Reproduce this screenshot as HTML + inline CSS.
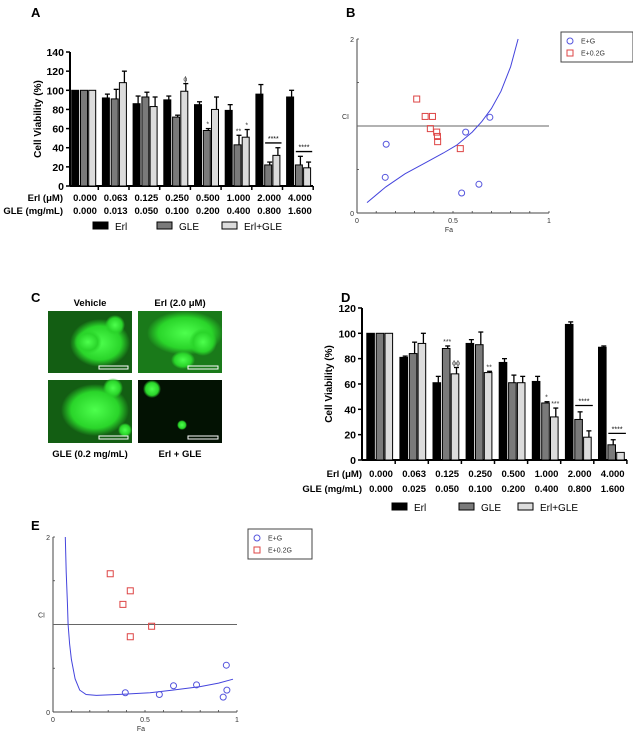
<!DOCTYPE html>
<html><head><meta charset="utf-8"><style>
html,body{margin:0;padding:0;background:#fff}
svg{display:block;font-family:"Liberation Sans",Arial,sans-serif}
</style></head><body>
<svg id="fig" width="633" height="738" viewBox="0 0 633 738" xmlns="http://www.w3.org/2000/svg">
<defs>
<radialGradient id="blob" cx="50%" cy="50%" r="50%"><stop offset="0" stop-color="#4dff4d"/><stop offset="0.7" stop-color="#2ad52a"/><stop offset="1" stop-color="#2ad52a" stop-opacity="0"/></radialGradient>
</defs>
<g font-weight="bold" font-size="13">
<text x="31" y="17">A</text>
<text x="346" y="17">B</text>
<text x="31" y="302">C</text>
<text x="341" y="302">D</text>
<text x="31" y="530">E</text>
</g>
<g>
<text x="90" y="306" font-size="9.5" font-weight="bold" text-anchor="middle">Vehicle</text>
<text x="180" y="306" font-size="9.5" font-weight="bold" text-anchor="middle">Erl (2.0 μM)</text>
<g>
<rect x="48" y="311" width="84" height="62" fill="#135e13"/>
<ellipse cx="100" cy="343" rx="30" ry="24" fill="url(#blob)"/>
<ellipse cx="88" cy="342" rx="14" ry="12" fill="url(#blob)"/>
<ellipse cx="115" cy="325" rx="10" ry="10" fill="url(#blob)"/>
<rect x="99" y="366" width="29" height="3" fill="none" stroke="#fff" stroke-width="1"/>
</g>
<g>
<rect x="138" y="311" width="84" height="62" fill="#1a7a1a"/>
<ellipse cx="185" cy="333" rx="38" ry="22" fill="url(#blob)"/>
<ellipse cx="203" cy="342" rx="14" ry="14" fill="url(#blob)"/>
<ellipse cx="183" cy="360" rx="12" ry="9" fill="url(#blob)"/>
<rect x="188" y="366" width="30" height="3" fill="none" stroke="#fff" stroke-width="1"/>
</g>
<g>
<rect x="48" y="380" width="84" height="63" fill="#135e13"/>
<ellipse cx="95" cy="410" rx="34" ry="26" fill="url(#blob)"/>
<ellipse cx="113" cy="388" rx="10" ry="10" fill="url(#blob)"/>
<ellipse cx="125" cy="430" rx="7" ry="7" fill="url(#blob)"/>
<rect x="99" y="436" width="29" height="3" fill="none" stroke="#fff" stroke-width="1"/>
</g>
<g>
<rect x="138" y="380" width="84" height="63" fill="#031203"/>
<circle cx="152" cy="389" r="9" fill="url(#blob)"/>
<circle cx="182" cy="425" r="5" fill="url(#blob)"/>
<rect x="188" y="436" width="30" height="3" fill="none" stroke="#fff" stroke-width="1"/>
</g>
<text x="90" y="457" font-size="9.5" font-weight="bold" text-anchor="middle">GLE (0.2 mg/mL)</text>
<text x="180" y="457" font-size="9.5" font-weight="bold" text-anchor="middle">Erl + GLE</text>
</g>
<g id="chartA"></g>
<g id="chartD"></g>
<g id="chartB"></g>
<g id="chartE"></g>
</svg>
<script>
// ---- Panel A data ----
const aErlLabels = ["0.000","0.063","0.125","0.250","0.500","1.000","2.000","4.000"];
const aGleLabels = ["0.000","0.013","0.050","0.100","0.200","0.400","0.800","1.600"];
const aErl = [100,92,86,90,85,79,96,93];
const aErlErr = [0,4,8,4,3,6,10,7];
const aGle = [100,91,93,72,58,43,22,22];
const aGleErr = [0,10,5,2,2,10,3,9];
const aCombo = [100,108,83,99,80,51,32,19];
const aComboErr = [0,12,10,8,13,8,8,6];
const aYTicks = [0,20,40,60,80,100,120,140];
const aAnnot = [[3,2,"ɸ"],[4,1,"*"],[5,1,"**"],[5,2,"*"]];
const aSigBars = [6,7];
// ---- Panel D data ----
const dErlLabels = ["0.000","0.063","0.125","0.250","0.500","1.000","2.000","4.000"];
const dGleLabels = ["0.000","0.025","0.050","0.100","0.200","0.400","0.800","1.600"];
const dErl = [100,81,61,92,77,62,107,89];
const dErlErr = [0,1,5,3,3,4,2,1];
const dGle = [100,84,88,91,61,45,32,12];
const dGleErr = [0,9,2,10,6,1,6,4];
const dCombo = [100,92,68,69,61,34,18,6];
const dComboErr = [0,8,5,1,5,7,5,0];
const dYTicks = [0,20,40,60,80,100,120];
const dAnnot = [[2,1,"***"],[2,2,"ɸɸ"],[3,2,"**"],[5,1,"*"],[5,2,"***"]];
const dSigBars = [6,7];
// ---- Panel B data ----
const bCircFa = [0.152,0.147,0.566,0.692,0.545,0.635];
const bCircCI = [0.79,0.41,0.93,1.10,0.23,0.33];
const bSqFa = [0.311,0.355,0.393,0.382,0.415,0.419,0.420,0.538];
const bSqCI = [1.31,1.11,1.11,0.97,0.93,0.88,0.82,0.74];
const bCurveFa = [0.052,0.15,0.25,0.35,0.45,0.52,0.60,0.65,0.70,0.75,0.80,0.839];
const bCurveCI = [0.12,0.30,0.45,0.57,0.69,0.78,0.93,1.05,1.20,1.40,1.68,2.0];
// ---- Panel E data ----
const eCircFa = [0.393,0.578,0.655,0.78,0.942,0.945,0.925];
const eCircCI = [0.22,0.20,0.30,0.31,0.535,0.25,0.17];
const eSqFa = [0.311,0.42,0.38,0.536,0.42];
const eSqCI = [1.58,1.385,1.23,0.98,0.86];
const eCurveFa = [0.067,0.072,0.078,0.082,0.09,0.10,0.12,0.145,0.18,0.236,0.35,0.527,0.65,0.8,0.9,0.978];
const eCurveCI = [2.0,1.6,1.25,1.0,0.78,0.6,0.38,0.25,0.2,0.19,0.2,0.22,0.25,0.29,0.33,0.375];

const NS="http://www.w3.org/2000/svg";
function mk(parent,tag,attrs,text){const e=document.createElementNS(NS,tag);for(const k in attrs)e.setAttribute(k,attrs[k]);if(text!==undefined)e.textContent=text;parent.appendChild(e);return e;}

function barChart(g,cfg){
  const yS=v=>cfg.y0-v*cfg.k;
  const xC=i=>cfg.c0+i*cfg.sp;
  const top=yS(cfg.ticks[cfg.ticks.length-1]);
  const ya=mk(g,'line',{x1:cfg.ax,y1:top,x2:cfg.ax,y2:cfg.y0,stroke:'#000','stroke-width':2});
  
  
  const xa=mk(g,'line',{x1:cfg.ax,y1:cfg.y0,x2:cfg.xEnd,y2:cfg.y0,stroke:'#000','stroke-width':2});
  
  
  cfg.ticks.forEach(t=>{
    mk(g,'line',{x1:cfg.ax-4,y1:yS(t),x2:cfg.ax,y2:yS(t),stroke:'#000','stroke-width':1.5});
    const tl=mk(g,'text',{x:cfg.ax-6,y:yS(t)+4,'text-anchor':'end','font-size':10.5,'font-weight':'bold'},t);
    
    
  });
  const ym=(cfg.y0+top)/2;
  const yt=mk(g,'text',{x:cfg.ytX,y:ym,transform:`rotate(-90 ${cfg.ytX} ${ym})`,'text-anchor':'middle','font-size':10,'font-weight':'bold'},'Cell Viability (%)');
  
  
  const series=[[cfg.erl,cfg.erlE,'#000'],[cfg.gle,cfg.gleE,'#7a7a7a'],[cfg.combo,cfg.comboE,'#dcdcdc']];
  const bw=cfg.bw;
  cfg.erlL.forEach((lab,i)=>{
    const c=xC(i);
    mk(g,'line',{x1:c+1.5*bw+2,y1:cfg.y0,x2:c+1.5*bw+2,y2:cfg.y0+4,stroke:'#000','stroke-width':1.5});
    series.forEach((s,j)=>{
      const x=c+(j-1.5)*bw;
      const v=s[0][i],e=s[1][i];
      const bx=x+(j===0?0:0.6);
      const r=mk(g,'rect',{x:bx,y:yS(v),width:bw-1.2,height:v*cfg.k,fill:s[2],stroke:'#000','stroke-width':1});
      
      
      if(e>0){
        const cx=bx+(bw-1.2)/2+1.5;
        mk(g,'line',{x1:cx,y1:yS(v),x2:cx,y2:yS(v+e),stroke:'#000','stroke-width':1.3});
        mk(g,'line',{x1:cx-2.5,y1:yS(v+e),x2:cx+2.5,y2:yS(v+e),stroke:'#000','stroke-width':1.3});
      }
    });
    const l1=mk(g,'text',{x:c+1,y:cfg.row1,'text-anchor':'middle','font-size':9.5,'font-weight':'bold'},lab);
    
    
    const l2=mk(g,'text',{x:c+1,y:cfg.row2,'text-anchor':'middle','font-size':9.5,'font-weight':'bold'},cfg.gleL[i]);
    
    
  });
  cfg.annot.forEach(a=>{
    const s=series[a[1]];const v=s[0][a[0]]+s[1][a[0]];
    const x=xC(a[0])+(a[1]-1.5)*bw+bw/2+1;
    const t=mk(g,'text',{x:x,y:yS(v)-2,'text-anchor':'middle','font-size':7,fill:'#333'},a[2]);
    
    
  });
  cfg.sig.forEach(i=>{
    const v=Math.max(cfg.gle[i]+cfg.gleE[i],cfg.combo[i]+cfg.comboE[i])+5;
    const x1=xC(i)-0.5*bw+1,x2=xC(i)+1.5*bw+1;
    mk(g,'line',{x1:x1,y1:yS(v),x2:x2,y2:yS(v),stroke:'#000','stroke-width':1.3});
    const t=mk(g,'text',{x:(x1+x2)/2,y:yS(v)-2,'text-anchor':'middle','font-size':7},'****');
    
    
  });
  const r1=mk(g,'text',{x:cfg.lblX,y:cfg.row1,'text-anchor':'end','font-size':9.5,'font-weight':'bold'},'Erl (μM)');
  
  
  const r2=mk(g,'text',{x:cfg.lblX,y:cfg.row2,'text-anchor':'end','font-size':9.5,'font-weight':'bold'},'GLE (mg/mL)');
  
  
  const names=['Erl','GLE','Erl+GLE'];
  cfg.leg.forEach((lx,j)=>{
    const b=mk(g,'rect',{x:lx,y:cfg.legY-4,width:15,height:7,fill:series[j][2],stroke:'#000','stroke-width':1});
    
    
    const t=mk(g,'text',{x:lx+22,y:cfg.legY+4,'font-size':10},names[j]);
    
    
  });
}
barChart(document.getElementById('chartA'),{ax:70,y0:186,k:0.957,c0:84,sp:30.7,bw:8.2,xEnd:313,ticks:aYTicks,ytX:41,
 erl:aErl,erlE:aErlErr,gle:aGle,gleE:aGleErr,combo:aCombo,comboE:aComboErr,erlL:aErlLabels,gleL:aGleLabels,
 annot:aAnnot,sig:aSigBars,row1:201,row2:214,lblX:63,leg:[93,157,222],legY:226});
barChart(document.getElementById('chartD'),{ax:362,y0:460,k:1.267,c0:380,sp:33.1,bw:8.8,xEnd:627,ticks:dYTicks,ytX:332,
 erl:dErlLabels.length?dErl:dErl,erlE:dErlErr,gle:dGle,gleE:dGleErr,combo:dCombo,comboE:dComboErr,erlL:dErlLabels,gleL:dGleLabels,
 annot:dAnnot,sig:dSigBars,row1:477,row2:492,lblX:362,leg:[392,459,518],legY:507});

function ciPlot(g,cfg){
  const X=f=>cfg.x0+f*(cfg.x1-cfg.x0);
  const Y=c=>cfg.y0-c*(cfg.y0-cfg.y2)/2;
  mk(g,'line',{x1:cfg.x0,y1:Y(0),x2:cfg.x0,y2:Y(2),stroke:'#444','stroke-width':1});
  mk(g,'line',{x1:cfg.x0,y1:Y(0),x2:cfg.x1,y2:Y(0),stroke:'#444','stroke-width':1});
  for(let i=0;i<=10;i++)mk(g,'line',{x1:X(i/10),y1:Y(0),x2:X(i/10),y2:Y(0)-2,stroke:'#444','stroke-width':0.8});
  for(let i=0;i<=4;i++)mk(g,'line',{x1:cfg.x0,y1:Y(i/2),x2:cfg.x0+2,y2:Y(i/2),stroke:'#444','stroke-width':0.8});
  const hl=mk(g,'line',{x1:cfg.x0,y1:Y(1),x2:cfg.x1,y2:Y(1),stroke:'#666','stroke-width':1});
  
  
  [['0',0],['2',2]].forEach(a=>mk(g,'text',{x:cfg.x0-3,y:Y(a[1])+3,'text-anchor':'end','font-size':7,fill:'#333'},a[0]));
  [['0',0],['0.5',0.5],['1',1]].forEach(a=>mk(g,'text',{x:X(a[1]),y:Y(0)+10,'text-anchor':'middle','font-size':7,fill:'#333'},a[0]));
  const ct=mk(g,'text',{x:cfg.x0-8,y:Y(1.08),'text-anchor':'end','font-size':7,fill:'#333'},'CI');
  
  
  const ft=mk(g,'text',{x:X(0.5)-4,y:Y(0)+19,'text-anchor':'middle','font-size':7,fill:'#333'},'Fa');
  
  
  const pts=cfg.cf.map((f,i)=>X(f).toFixed(1)+','+Y(cfg.cc[i]).toFixed(1)).join(' ');
  const pl=mk(g,'polyline',{points:pts,fill:'none',stroke:'#4444dd','stroke-width':1});
  
  
  cfg.circF.forEach((f,i)=>{
    const c=mk(g,'circle',{cx:X(f),cy:Y(cfg.circC[i]),r:3,fill:'none',stroke:'#5555dd','stroke-width':1});
    
    
  });
  cfg.sqF.forEach((f,i)=>{
    const s=mk(g,'rect',{x:X(f)-3,y:Y(cfg.sqC[i])-3,width:6,height:6,fill:'none',stroke:'#dd4444','stroke-width':1});
    
    
  });
  const lb=mk(g,'rect',{x:cfg.lx,y:cfg.ly,width:cfg.lw,height:cfg.lh,fill:'#fff',stroke:'#444','stroke-width':1});
  
  
  mk(g,'circle',{cx:cfg.lx+9,cy:cfg.ly+cfg.lh*0.3,r:3,fill:'none',stroke:'#5555dd'});
  const t1=mk(g,'text',{x:cfg.lx+20,y:cfg.ly+cfg.lh*0.3+2.5,'font-size':7,fill:'#333'},'E+G');
  
  
  mk(g,'rect',{x:cfg.lx+6,y:cfg.ly+cfg.lh*0.7-3,width:6,height:6,fill:'none',stroke:'#dd4444'});
  const t2=mk(g,'text',{x:cfg.lx+20,y:cfg.ly+cfg.lh*0.7+2.5,'font-size':7,fill:'#333'},'E+0.2G');
  
  
}
ciPlot(document.getElementById('chartB'),{x0:357,x1:549,y0:213,y2:39,cf:bCurveFa,cc:bCurveCI,circF:bCircFa,circC:bCircCI,sqF:bSqFa,sqC:bSqCI,lx:561,ly:32,lw:72,lh:30});
ciPlot(document.getElementById('chartE'),{x0:53,x1:237,y0:712,y2:537,cf:eCurveFa,cc:eCurveCI,circF:eCircFa,circC:eCircCI,sqF:eSqFa,sqC:eSqCI,lx:248,ly:529,lw:64,lh:30});
</script>
</body></html>
